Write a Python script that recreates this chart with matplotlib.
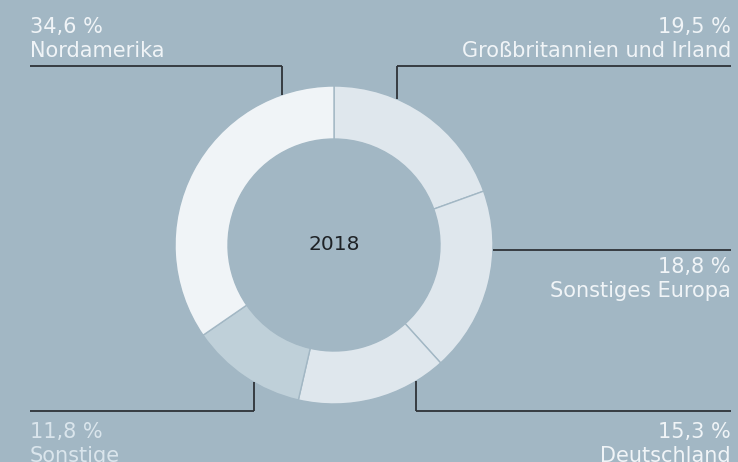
import numpy as np
import matplotlib.pyplot as plt

# ---------- data ----------
YEAR = "2018"
REGIONS = ["Großbritannien und Irland", "Sonstiges Europa", "Deutschland",
           "Sonstige", "Nordamerika"]
SHARES = [19.5, 18.8, 15.3, 11.8, 34.6]
COLORS = ["#dfe7ed", "#dfe7ed", "#dfe7ed", "#bfd0d9", "#f0f4f7"]

BG = "#a2b7c4"
LINE = "#2e3338"
H = 462
CX, CY, R, W = 334, H - 245, 159, 53

# label layout in pixels: (x of vertical leg or None, y of horizontal, x0, x1,
#                          text x, align, baseline of value, text colour)
LAYOUT = {
    "Nordamerika": (282, 66, 30, 282, 30, "left", 33, "#f0f4f7"),
    "Großbritannien und Irland": (397, 66, 397, 731, 731, "right", 33, "#f0f4f7"),
    "Sonstiges Europa": (None, 250, 493, 731, 731, "right", 273, "#f0f4f7"),
    "Deutschland": (416, 411, 416, 731, 731, "right", 438, "#f0f4f7"),
    "Sonstige": (254, 411, 30, 254, 30, "left", 438, "#dae5ec"),
}


def fmt(v):
    return f"{v:.1f}".replace(".", ",") + " %"


fig = plt.figure(figsize=(7.38, 4.62), dpi=100, facecolor=BG)
ax = fig.add_axes([0, 0, 1, 1])
ax.set_facecolor(BG)

ax.pie(SHARES, colors=COLORS, startangle=90, counterclock=False,
       center=(CX, CY), radius=R,
       wedgeprops=dict(width=W, edgecolor=BG, linewidth=1.0))
ax.set_xlim(0, 738)
ax.set_ylim(0, H)
ax.set_aspect("equal")
ax.axis("off")

ax.text(CX, CY, YEAR, ha="center", va="center", fontsize=14.5,
        color="#1e2226", family="DejaVu Sans")

for name, val in zip(REGIONS, SHARES):
    vx, hy, x0, x1, tx, align, base, tcol = LAYOUT[name]
    ax.plot([x0, x1], [H - hy, H - hy], color=LINE, lw=1.3,
            solid_capstyle="butt")
    if vx is not None:
        # vertical leg runs from the horizontal line to the ring's outer edge
        dy = np.sqrt(R ** 2 - (vx - CX) ** 2)
        yend = CY + dy if hy < 245 else CY - dy
        ax.plot([vx, vx], [H - hy, yend], color=LINE, lw=1.3,
                solid_capstyle="butt")
    ax.text(tx, H - base, fmt(val), ha=align, va="baseline",
            fontsize=15, color=tcol, family="DejaVu Sans")
    ax.text(tx, H - base - 24, name, ha=align, va="baseline",
            fontsize=15, color=tcol, family="DejaVu Sans")

fig.savefig("out.png", dpi=100, facecolor=BG)
